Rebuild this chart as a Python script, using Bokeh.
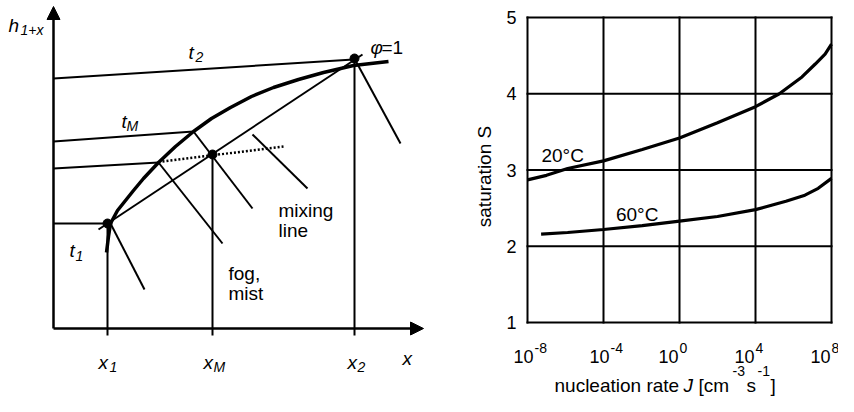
import math
from bokeh.plotting import figure
from bokeh.models import Range1d, Arrow, NormalHead
from bokeh.layouts import row
from bokeh.embed import file_html
from bokeh.resources import INLINE
from bokeh.core.properties import value

# ---------------- Left panel: schematic h1+x - x diagram ----------------
axis_x_end = 370
axis_h_end = 322
state_x = [54, 159, 301]          # x1, xM, x2
state_h = [105, 174, 270]         # h1, hM, h2
sat_x = [53, 55, 57, 64, 80, 90, 105, 122, 140, 158, 177, 198, 220, 245, 270, 300, 335]
sat_h = [76, 92, 105, 118, 138, 150, 166, 182, 197, 210, 221, 232, 241, 249, 256, 263, 267]
iso_x = [[0, 300], [0, 140], [0, 105], [0, 54]]
iso_h = [[250, 269], [187, 197], [160, 166], [105, 105]]
fog_x = [[57, 91], [105, 169], [140, 199], [302, 347], [199, 254]]
fog_h = [[105, 39], [166, 85], [197, 120], [268, 185], [194, 140]]
mix_x = [45, 309]
mix_h = [99, 274]
mist_x = [109, 230]
mist_h = [167, 182]
drop_h = -7

main_labels = ["h", "t", "t", "t", "x", "x", "x", "x"]
main_x = [-45, 135, 68, 16, 45, 150, 294, 349]
main_y = [303, 276, 207, 78, -34, -34, -34, -30]
sub_labels = ["1+x", "2", "M", "1", "1", "M", "2"]
sub_x = [-33, 142, 73, 22, 56, 160, 304]
sub_y = [299, 272, 203, 73, -38, -38, -38]
note_labels = ["mixing", "line", "fog,", "mist", "=1"]
note_x = [225, 225, 175, 175, 328]
note_y = [118, 98, 55, 35, 281]
phi_label = ["φ"]
phi_x = [317]
phi_y = [281]

# ---------------- Right panel data: saturation vs nucleation rate ----------------
J_20 = [1e-8, 1e-7, 1.3e-6, 1e-4, 1.1e-2, 1e0, 1e2, 1e4, 1.8e5, 2.8e6, 1.4e7, 4.6e7, 1e8]
S_20 = [2.87, 2.93, 3.02, 3.12, 3.27, 3.42, 3.62, 3.83, 4.0, 4.22, 4.39, 4.52, 4.65]
J_60 = [5.2e-8, 1.3e-6, 1e-4, 1.1e-2, 1e0, 1e2, 1e4, 4e5, 4e6, 2e7, 1e8]
S_60 = [2.16, 2.18, 2.22, 2.27, 2.33, 2.39, 2.48, 2.59, 2.67, 2.76, 2.89]
grid_exp = [-8, -4, 0, 4, 8]
S_ticks = [1, 2, 3, 4, 5]
curve_names = ["20°C", "60°C"]
curve_label_J = [5.4e-8, 4.5e-4]
curve_label_S = [3.19, 2.42]
y_title = "saturation S"
x_title_parts = ["nucleation rate", "J", "[cm", "-3", "s", "-1", "]"]

FONT = "Liberation Sans"

# ---------------- Left figure ----------------
W1, H = 440, 396
p1 = figure(width=W1, height=H, x_range=Range1d(-53, W1 - 53), y_range=Range1d(328 - H, 328),
            x_axis_location=None, y_axis_location=None, output_backend="svg",
            toolbar_location=None, min_border=0)
p1.grid.visible = False
p1.outline_line_color = None

head = dict(size=13, fill_color="black", line_color="black", line_width=1)
p1.add_layout(Arrow(end=NormalHead(**head), x_start=0, y_start=0, x_end=axis_x_end, y_end=0,
                    line_width=2.5, line_color="black"))
p1.add_layout(Arrow(end=NormalHead(**head), x_start=0, y_start=0, x_end=0, y_end=axis_h_end,
                    line_width=2.5, line_color="black"))

p1.multi_line(iso_x, iso_h, line_color="black", line_width=2)
p1.multi_line(fog_x, fog_h, line_color="black", line_width=2)
p1.multi_line([[sx, sx] for sx in state_x], [[sh, drop_h] for sh in state_h],
              line_color="black", line_width=2)
p1.line(mix_x, mix_h, line_color="black", line_width=2)
p1.line(mist_x, mist_h, line_color="black", line_width=2.5, line_dash="2 2")
p1.line(sat_x, sat_h, line_color="black", line_width=3.5)
p1.scatter(state_x, state_h, size=9, color="black")

txt = dict(text_font=value(FONT), text_baseline="alphabetic", text_align="left", text_color="black")
p1.text(main_x, main_y, text=main_labels, text_font_size="19px", text_font_style="italic", **txt)
p1.text(sub_x, sub_y, text=sub_labels, text_font_size="14px", text_font_style="italic", **txt)
p1.text(note_x, note_y, text=note_labels, text_font_size="19px", **txt)
p1.text(phi_x, phi_y, text=phi_label, text_font_size="19px", text_font_style="italic", **txt)

# ---------------- Right figure (plot box drawn inside a full-canvas plot area) ----------------
W2 = 838 - W1
FL, FR, FT, FB = 87, 391, 17, 322          # plot box in figure pixels
dec_px = (FR - FL) / 16.0
s_px = (FB - FT) / 4.0
x_lo = 10 ** (-8 - FL / dec_px)
x_hi = 10 ** (8 + (W2 - FR) / dec_px)
y_lo = 1 - (H - FB) / s_px
y_hi = 5 + FT / s_px

def jx(J, dx):
    return J * 10 ** (dx / dec_px)

def sy(S, dy):
    return S + dy / s_px

p2 = figure(width=W2, height=H, x_axis_type="log", x_range=Range1d(x_lo, x_hi),
            y_range=Range1d(y_lo, y_hi), x_axis_location=None, y_axis_location=None,
            output_backend="svg", toolbar_location=None, min_border=0)
p2.grid.visible = False
p2.outline_line_color = None

J_min, J_max = 10.0 ** grid_exp[0], 10.0 ** grid_exp[-1]
gx = [[10.0 ** e, 10.0 ** e] for e in grid_exp] + [[J_min, J_max] for s in S_ticks]
gy = [[S_ticks[0], S_ticks[-1]] for e in grid_exp] + [[s, s] for s in S_ticks]
p2.multi_line(gx, gy, line_color="black", line_width=2, line_cap="square")

p2.line(J_20, S_20, line_color="black", line_width=3.2)
p2.line(J_60, S_60, line_color="black", line_width=3.2)
p2.text(curve_label_J, curve_label_S, text=curve_names, text_font_size="19px", **txt)

# y tick labels and title
p2.text([jx(J_min, -11)] * len(S_ticks), S_ticks, text=[str(s) for s in S_ticks],
        text_font=value(FONT), text_font_size="18px", text_align="right",
        text_baseline="middle", text_color="black")
p2.text([jx(J_min, -43)], [sy(1, 146)], text=[y_title], text_font=value(FONT),
        text_font_size="19px", text_align="center", text_baseline="middle",
        text_color="black", angle=math.pi / 2)

# x tick labels 10^e
base_x = [jx(10.0 ** e, 6 if e < 0 else -1) for e in grid_exp]
p2.text(base_x, [sy(1, -34)] * len(grid_exp), text=["10"] * len(grid_exp),
        text_font=value(FONT), text_font_size="18px", text_align="right",
        text_baseline="alphabetic", text_color="black")
p2.text([jx(b, 1) for b in base_x], [sy(1, -25)] * len(grid_exp), text=[str(e) for e in grid_exp],
        text_font=value(FONT), text_font_size="14px", text_align="left",
        text_baseline="alphabetic", text_color="black")

# x title with italic J and superscripts
J_c = 1.0
offs = [-125, 4, 19, 53, 67, 78, 91]
rise = [-63, -63, -63, -48, -63, -48, -63]
sizes = ["19px", "19px", "19px", "14px", "19px", "14px", "19px"]
styles = ["normal", "italic", "normal", "normal", "normal", "normal", "normal"]
for part, dx, dy, fs, st in zip(x_title_parts, offs, rise, sizes, styles):
    p2.text([jx(J_c, dx)], [sy(1, dy)], text=[part], text_font_size=fs, text_font_style=st, **txt)

layout = row(p1, p2)
open("out.html", "w").write(file_html(layout, INLINE))
